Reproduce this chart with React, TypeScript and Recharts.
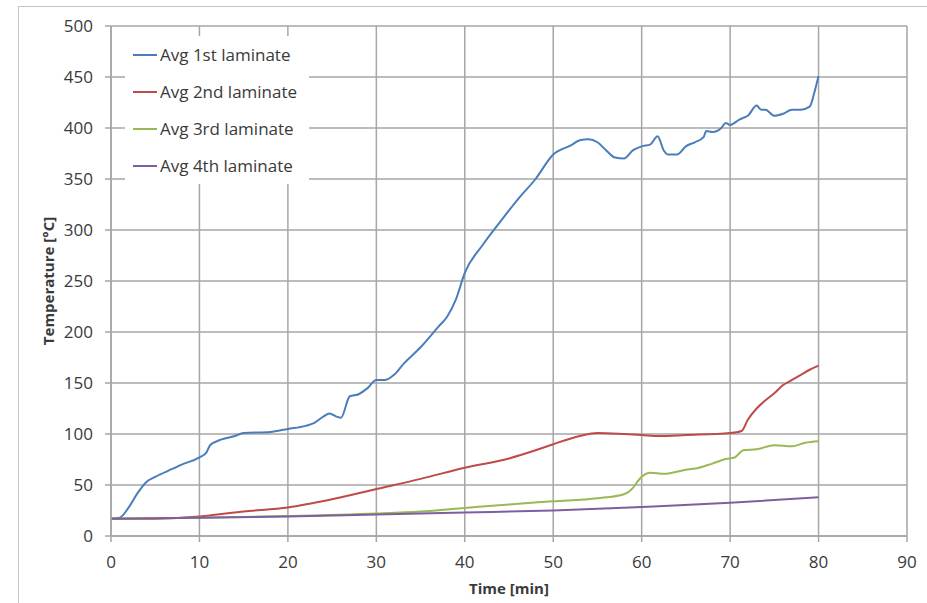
import React from "react";
import {
  LineChart,
  Line,
  XAxis,
  YAxis,
  CartesianGrid,
  Legend,
} from "recharts";

// time [min] / temperature [°C] readings per laminate
const blueTime = [0, 1, 2, 3, 4, 5, 7, 8, 10, 10.8, 11.2, 12, 14, 15, 18, 20, 22, 23, 24, 24.7, 25.5, 26, 27, 28, 29, 30, 31, 32, 33, 35, 37, 38, 39, 40, 42, 44, 46, 48, 50, 52, 53, 54, 55, 56, 57, 58, 59, 60, 61, 61.8, 62.5, 63, 64, 65, 66, 67, 67.3, 68, 69, 69.5, 70, 71, 71.5, 72, 73, 73.5, 74, 75, 76, 77, 78, 79, 79.5, 80];
const blueTemp = [17, 18, 28, 42, 53, 58, 66, 70, 77, 82, 89, 93, 98, 101, 102, 105, 108, 111, 117, 120, 117, 116, 137, 139, 145, 153, 153, 158, 168, 185, 205, 215, 232, 258, 285, 308, 330, 350, 374, 383, 388, 389, 386, 378, 371, 370, 378, 382, 384, 392, 378, 374, 374, 382, 386, 391, 397, 396, 400, 405, 403, 408, 410, 412, 422, 418, 418, 412, 414, 418, 418, 421, 434, 451];

const redTime = [0, 5, 10, 12, 15, 20, 25, 30, 35, 40, 45, 48, 50, 53, 55, 58, 60, 62, 65, 70, 71.3, 72, 73, 74, 75, 76, 77, 78, 79, 80];
const redTemp = [17, 17, 19, 21, 24, 28, 36, 46, 56, 67, 76, 84, 90, 98, 101, 100, 99, 98, 99, 101, 103, 114, 125, 133, 140, 148, 153, 158, 163, 167];

const greenTime = [0, 10, 20, 30, 35, 40, 45, 50, 55, 58, 59, 59.5, 60, 61, 62.5, 65, 66.5, 68, 69.5, 70.5, 71.5, 73, 75, 77, 78.5, 80];
const greenTemp = [17, 18, 19.5, 22, 24, 27.5, 31, 34, 37, 41, 47, 53, 58, 62, 61, 65, 67, 71, 75.5, 77, 84, 85, 89, 88, 91.5, 93];

const purpleTime = [0, 10, 20, 30, 40, 50, 60, 70, 80];
const purpleTemp = [17, 18, 19, 21, 23, 25, 28.5, 32.5, 38];

const seriesNames = ["Avg 1st laminate", "Avg 2nd laminate", "Avg 3rd laminate", "Avg 4th laminate"];
const seriesColors = ["#4A7EBB", "#BE4B48", "#98B954", "#7D5FA0"];

const xTicks = [0, 10, 20, 30, 40, 50, 60, 70, 80, 90];
const yTicks = [0, 50, 100, 150, 200, 250, 300, 350, 400, 450, 500];

const zip = (ts: number[], vs: number[]) => ts.map((t, i) => ({ t, v: vs[i] }));

const series = [
  zip(blueTime, blueTemp),
  zip(redTime, redTemp),
  zip(greenTime, greenTemp),
  zip(purpleTime, purpleTemp),
];

const FONT = "'Open Sans', 'Liberation Sans', sans-serif";
const GRID = "#a6a6a6";
const TEXT = "#3a3a3a";

const LegendBox = () => (
  <div
    style={{
      background: "#fff",
      width: 184,
      height: 148,
      boxSizing: "border-box",
      paddingTop: 0,
      fontFamily: FONT,
      fontSize: 17,
      color: TEXT,
    }}
  >
    {seriesNames.map((name, i) => (
      <div key={name} style={{ display: "flex", alignItems: "center", height: 37 }}>
        <svg width={35} height={10} style={{ marginLeft: 8 }}>
          <line x1={0} y1={5} x2={24} y2={5} stroke={seriesColors[i]} strokeWidth={2} />
        </svg>
        <span style={{ marginLeft: -8 }}>{name}</span>
      </div>
    ))}
  </div>
);

const YTitle = ({ viewBox }: any) => {
  const x = viewBox.x - 3;
  const y = viewBox.y + viewBox.height / 2;
  return (
    <text
      x={x}
      y={y}
      transform={`rotate(-90, ${x}, ${y})`}
      textAnchor="middle"
      dominantBaseline="central"
      fontFamily={FONT}
      fontSize={15}
      fontWeight="bold"
      fill={TEXT}
    >
      Temperature [°C]
    </text>
  );
};

export default function App() {
  return (
    <div
      style={{
        position: "absolute",
        left: 0,
        top: 0,
        width: 927,
        height: 603,
        overflow: "hidden",
        background: "#fff",
      }}
    >
      <div
        style={{
          position: "absolute",
          left: 18,
          top: 6,
          width: 960,
          height: 700,
          border: "1.5px solid #c4c4c4",
        }}
      />
      <div style={{ position: "absolute", left: 0, top: 0 }}>
        <LineChart
          width={927}
          height={603}
          margin={{ top: 26, right: 20, left: 51, bottom: 7 }}
        >
          <CartesianGrid stroke={GRID} strokeWidth={1.5} />
          <XAxis
            type="number"
            dataKey="t"
            domain={[0, 90]}
            ticks={xTicks}
            allowDataOverflow
            height={60}
            tickSize={6}
            tickMargin={14}
            axisLine={{ stroke: GRID, strokeWidth: 1.5 }}
            tickLine={{ stroke: GRID, strokeWidth: 1.5 }}
            tick={{ fontFamily: FONT, fontSize: 17, fill: TEXT }}
            label={{
              value: "Time [min]",
              position: "insideBottom",
              offset: 2,
              fontFamily: FONT,
              fontSize: 15,
              fontWeight: "bold",
              fill: TEXT,
            }}
          />
          <YAxis
            type="number"
            domain={[0, 500]}
            ticks={yTicks}
            width={60}
            tickSize={6}
            tickMargin={12}
            axisLine={{ stroke: GRID, strokeWidth: 1.5 }}
            tickLine={{ stroke: GRID, strokeWidth: 1.5 }}
            tick={{ fontFamily: FONT, fontSize: 17, fill: TEXT }}
            label={<YTitle />}
          />
          {/* horizontal + middle + center keeps the legend from shrinking the plot */}
          <Legend
            layout="horizontal"
            verticalAlign="middle"
            align="center"
            content={<LegendBox />}
            wrapperStyle={{ left: 125, top: 36, width: 184, height: 148 }}
          />
          {series.map((data, i) => (
            <Line
              key={seriesNames[i]}
              name={seriesNames[i]}
              data={data}
              dataKey="v"
              type="monotone"
              stroke={seriesColors[i]}
              strokeWidth={2}
              dot={false}
              activeDot={false}
              isAnimationActive={false}
            />
          ))}
        </LineChart>
      </div>
    </div>
  );
}
